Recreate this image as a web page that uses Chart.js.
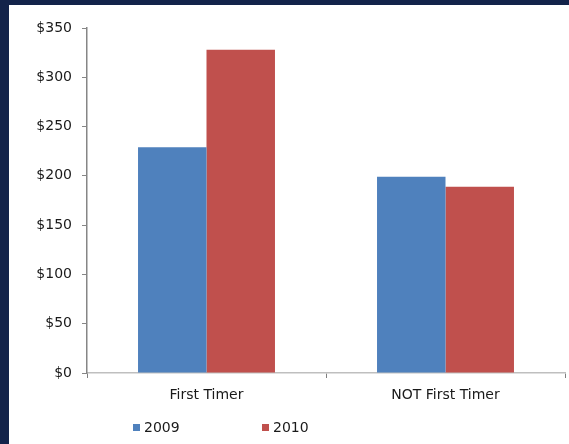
<!DOCTYPE html>
<html>
<head>
<meta charset="utf-8">
<script src="https://cdn.jsdelivr.net/npm/chart.js@4"></script>
<style>
  html, body { margin: 0; padding: 0; background: #13234a; width: 569px; height: 444px; overflow: hidden; }
  #panel { position: absolute; left: 9px; top: 5px; width: 560px; height: 439px; background: #ffffff; }
  #panel canvas { display: block; }
</style>
</head>
<body>
<div id="panel"><canvas id="c" width="560" height="439"></canvas></div>
<script>
// Average spend by visitor type, per year
const categories = ['First Timer', 'NOT First Timer'];
const series2009 = [229, 199];
const series2010 = [328, 189];
const seriesNames = ['2009', '2010'];
const yTicks = [0, 50, 100, 150, 200, 250, 300, 350];

const FONT = { family: 'DejaVu Sans', size: 14 };
const TEXT = '#1a1a1a';

// Legend drawn under the axis labels as two coloured squares with their year
const bottomLegend = {
  id: 'bottomLegend',
  afterDraw(chart) {
    const ctx = chart.ctx;
    const slots = [124, 253];
    ctx.save();
    ctx.font = FONT.size + 'px ' + FONT.family;
    ctx.textBaseline = 'middle';
    ctx.textAlign = 'left';
    chart.data.datasets.forEach((ds, i) => {
      ctx.fillStyle = ds.backgroundColor;
      ctx.fillRect(slots[i], 419, 7, 7);
      ctx.fillStyle = TEXT;
      ctx.fillText(ds.label, slots[i] + 11, 423);
    });
    ctx.restore();
  }
};

new Chart(document.getElementById('c'), {
  type: 'bar',
  data: {
    labels: categories,
    datasets: [
      { label: seriesNames[0], data: series2009, backgroundColor: '#4f81bd' },
      { label: seriesNames[1], data: series2010, backgroundColor: '#c0504d' }
    ]
  },
  options: {
    responsive: false,
    animation: false,
    devicePixelRatio: 1,
    layout: { padding: { top: 23, right: 4, left: 0, bottom: 0 } },
    plugins: { legend: { display: false }, tooltip: { enabled: false } },
    datasets: { bar: { categoryPercentage: 0.573, barPercentage: 1 } },
    scales: {
      x: {
        afterFit(scale) { scale.height = 71; },
        grid: { offset: true, drawOnChartArea: false, color: '#7f7f7f', tickLength: 5 },
        border: { color: '#bfbfbf', width: 1.5 },
        ticks: { color: TEXT, font: FONT, padding: 9 }
      },
      y: {
        min: 0, max: 350,
        afterFit(scale) { scale.width = 78; },
        afterBuildTicks(scale) { scale.ticks = yTicks.map(v => ({ value: v })); },
        grid: { drawOnChartArea: false, color: '#868686', tickLength: 5 },
        border: { color: '#868686', width: 1.5 },
        ticks: { color: TEXT, font: FONT, padding: 10, callback: v => '$' + v }
      }
    }
  },
  plugins: [bottomLegend]
});
</script>
</body>
</html>
